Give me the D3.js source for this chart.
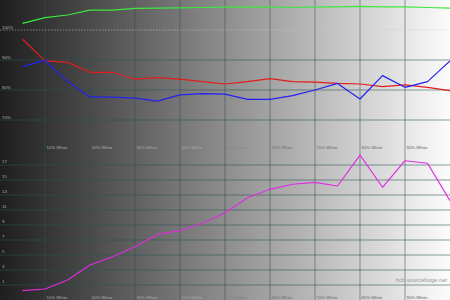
<!DOCTYPE html>
<html>
<head>
<meta charset="utf-8">
<script src="https://cdn.jsdelivr.net/npm/d3@7"></script>
<style>
    html, body { margin: 0; padding: 0; background: #fff; }
    svg { display: block; }
    text { font-family: "Liberation Sans", Arial, sans-serif; }
</style>
</head>
<body>
<svg id="chart" width="450" height="300"></svg>
<script>
// IRE levels, 5% steps
var levels = [5, 10, 15, 20, 25, 30, 35, 40, 45, 50, 55, 60, 65, 70, 75, 80, 85, 90, 95, 100];

// RGB levels (%)
var greenValues = [102.2, 104.1, 105.0, 106.6, 106.6, 107.2, 107.3, 107.4, 107.5, 107.6, 107.6, 107.6, 107.5, 107.7, 107.7, 107.9, 107.7, 107.7, 107.5, 107.3];
var redValues   = [96.9, 89.7, 89.2, 85.9, 85.9, 83.6, 84.1, 83.6, 82.8, 82.0, 82.8, 83.8, 82.8, 82.6, 82.2, 82.0, 81.1, 81.7, 80.9, 79.8];
var blueValues  = [87.8, 89.9, 82.8, 77.7, 77.6, 77.3, 76.3, 78.4, 78.8, 78.6, 76.9, 76.9, 78.1, 80.0, 82.2, 77.0, 84.8, 80.9, 82.8, 89.7];

// delta E
var deltaEValues = [0.24, 0.47, 1.67, 3.67, 4.77, 6.11, 7.76, 8.24, 9.23, 10.64, 12.64, 13.76, 14.43, 14.69, 14.2, 18.33, 14.03, 17.57, 17.23, 12.24];

// tick labels
var whiteTicks = [10, 20, 30, 40, 50, 60, 70, 80, 90];
var topTicks = [90, 80, 70];
var topRefTick = 100;
var bottomTicks = [17, 15, 13, 11, 9, 7, 5, 3, 1];

const WIDTH = 450;
const HEIGHT = 300;

var svg = d3.select("#chart");

var x = d3.scaleLinear().domain([0, 100]).range([0, WIDTH]);
var yTop = d3.scaleLinear().domain([70, 110]).range([120, 0]);
var yBottom = d3.scaleLinear().domain([-1, 19]).range([300, 150]);

// Background gradient black -> white
var defs = svg.append("defs");
var grad = defs.append("linearGradient")
    .attr("id", "bgGrad")
    .attr("x1", "0%").attr("x2", "100%")
    .attr("y1", "0%").attr("y2", "0%");
grad.append("stop").attr("offset", "0%").attr("stop-color", "#1e1e1e");
grad.append("stop").attr("offset", "100%").attr("stop-color", "#fcfcfc");

svg.append("rect")
    .attr("width", WIDTH)
    .attr("height", HEIGHT)
    .attr("fill", "url(#bgGrad)");

// label colour depends on where it sits on the gradient
var labelColor = d3.scaleLinear()
    .domain([0, 200, 240, 450])
    .range(["#b4b4b4", "#a8a8a8", "#707070", "#585858"]);

var gridColor = "rgb(43,82,82)";
var gridOpacity = 0.38;
var gridWidth = 1.4;

// Vertical grid
svg.append("g")
    .selectAll("line")
    .data(whiteTicks)
    .enter().append("line")
        .attr("x1", function(d) { return x(d); })
        .attr("x2", function(d) { return x(d); })
        .attr("y1", 0)
        .attr("y2", HEIGHT)
        .attr("stroke", gridColor)
        .attr("stroke-opacity", gridOpacity)
        .attr("stroke-width", gridWidth);

// Horizontal grid, top panel
svg.append("g")
    .selectAll("line")
    .data(topTicks)
    .enter().append("line")
        .attr("x1", 0)
        .attr("x2", WIDTH)
        .attr("y1", function(d) { return yTop(d); })
        .attr("y2", function(d) { return yTop(d); })
        .attr("stroke", gridColor)
        .attr("stroke-opacity", gridOpacity)
        .attr("stroke-width", gridWidth);

// 100% reference (dotted)
svg.append("line")
    .attr("x1", 0)
    .attr("x2", WIDTH)
    .attr("y1", yTop(topRefTick))
    .attr("y2", yTop(topRefTick))
    .attr("stroke", "#c8c8c8")
    .attr("stroke-opacity", 0.55)
    .attr("stroke-width", 1.2)
    .attr("stroke-dasharray", "1.5,1.5");

// Horizontal grid, bottom panel
svg.append("g")
    .selectAll("line")
    .data(bottomTicks)
    .enter().append("line")
        .attr("x1", 0)
        .attr("x2", WIDTH)
        .attr("y1", function(d) { return yBottom(d); })
        .attr("y2", function(d) { return yBottom(d); })
        .attr("stroke", gridColor)
        .attr("stroke-opacity", gridOpacity)
        .attr("stroke-width", gridWidth);

// Y labels
svg.append("g")
    .selectAll("text")
    .data([topRefTick].concat(topTicks))
    .enter().append("text")
        .attr("x", 2)
        .attr("y", function(d) { return yTop(d) - 1.5; })
        .attr("font-size", 4.3)
        .attr("fill", "#b0b0b0")
        .text(function(d) { return d + "%"; });

svg.append("g")
    .selectAll("text")
    .data(bottomTicks)
    .enter().append("text")
        .attr("x", 2)
        .attr("y", function(d) { return yBottom(d) - 2; })
        .attr("font-size", 4.3)
        .attr("fill", "#b0b0b0")
        .text(function(d) { return d; });

// "xx% White" labels, middle and bottom
[148.5, 298.5].forEach(function(yPos)
{
    svg.append("g")
        .selectAll("text")
        .data(whiteTicks)
        .enter().append("text")
            .attr("x", function(d) { return x(d) + 1.5; })
            .attr("y", yPos)
            .attr("font-size", 4.3)
            .attr("fill", function(d) { return labelColor(x(d)); })
            .text(function(d) { return d + "% White"; });
});

// Curves
var lineTop = d3.line()
    .x(function(d, i) { return x(levels[i]); })
    .y(function(d) { return yTop(d); });

var lineBottom = d3.line()
    .x(function(d, i) { return x(levels[i]); })
    .y(function(d) { return yBottom(d); });

var series = [
    { values: greenValues, color: "#3ee83e", line: lineTop },
    { values: redValues, color: "#e41c1c", line: lineTop },
    { values: blueValues, color: "#2222ee", line: lineTop },
    { values: deltaEValues, color: "#dd2ee0", line: lineBottom }
];

series.forEach(function(s)
{
    svg.append("path")
        .datum(s.values)
        .attr("fill", "none")
        .attr("stroke", s.color)
        .attr("stroke-width", 1.2)
        .attr("stroke-linejoin", "round")
        .attr("d", s.line);
});

// watermark
svg.append("text")
    .attr("x", 447)
    .attr("y", 282)
    .attr("text-anchor", "end")
    .attr("font-size", 5.8)
    .attr("fill", "#959595")
    .text("hcfr.sourceforge.net");
</script>
</body>
</html>
